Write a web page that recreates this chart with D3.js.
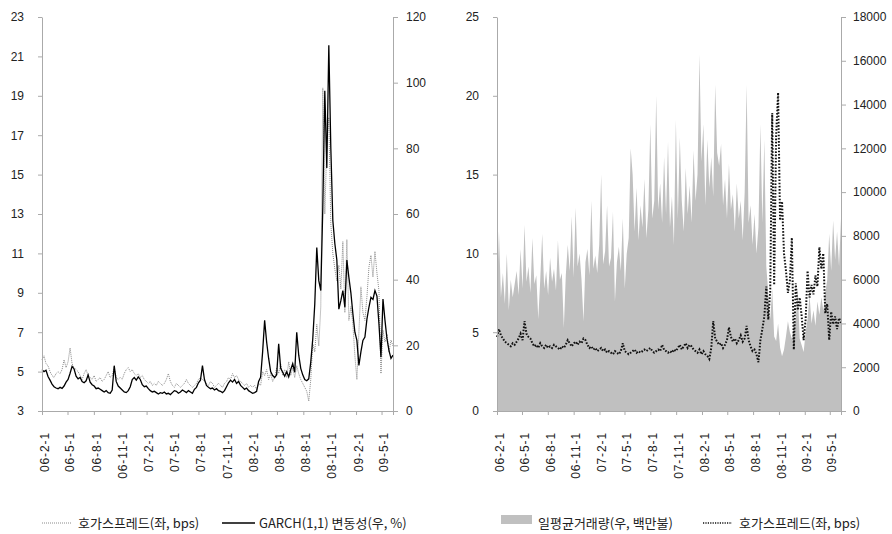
<!DOCTYPE html>
<html>
<head>
<meta charset="utf-8">
<script src="https://cdn.jsdelivr.net/npm/d3@7"></script>
<style>
  body { margin: 0; background: #fff; }
  svg { display: block; font-family: "Noto Sans CJK KR", "Noto Sans", sans-serif; }
  .axis text { font-size: 12px; fill: #222; }
  .axis path, .axis line { stroke: #aaa; }
  .legend text { font-size: 13px; fill: #222; }
</style>
</head>
<body>
<svg id="chart" width="892" height="534"></svg>
<script>
// 주간 데이터 (2006-02-01 부터 7일 간격)
const startDate = new Date(2006, 1, 1);

const tickLabels = ["06-2-1", "06-5-1", "06-8-1", "06-11-1", "07-2-1", "07-5-1", "07-8-1",
  "07-11-1", "08-2-1", "08-5-1", "08-8-1", "08-11-1", "09-2-1", "09-5-1"];

// 왼쪽 그림: 호가스프레드(좌, bps)
const spreadLeft = [
  5.6, 5.8, 5.4, 5.3, 5.0, 4.8, 4.7, 4.9, 5.0, 4.9,
  5.1, 5.6, 5.2, 5.5, 6.2, 5.4, 5.2, 5.1, 5.0, 4.8,
  4.6, 4.9, 5.1, 4.8, 4.7, 4.6, 4.8, 4.5, 4.6, 4.7,
  4.5, 4.6, 4.8, 5.0, 4.7, 4.8, 5.2, 4.7, 4.6, 4.7,
  4.6, 4.9, 5.1, 5.2, 5.0, 5.1, 4.9, 4.8, 4.9, 4.7,
  4.8, 4.6, 4.5, 4.4, 4.5, 4.3, 4.4, 4.3, 4.5, 4.4,
  4.3, 4.4, 4.6, 4.9, 4.5, 4.3, 4.2, 4.4, 4.3, 4.2,
  4.3, 4.4, 4.6, 4.4, 4.3, 4.2, 4.3, 4.4, 4.6, 4.7,
  4.6, 4.5, 4.4, 4.3, 4.5, 4.4, 4.2, 4.3, 4.4, 4.3,
  4.2, 4.4, 4.5, 4.7, 4.6, 4.9, 4.7, 4.8, 4.6, 4.5,
  4.4, 4.3, 4.4, 4.2, 4.3, 4.2, 4.3, 4.1, 4.4, 4.3,
  5.0, 4.8, 5.1, 4.6, 4.9, 4.5, 4.7, 5.2, 4.9, 5.4,
  4.8, 5.1, 4.7, 5.5, 4.8, 5.2, 4.7, 5.3, 4.9, 4.6,
  4.4, 4.2, 4.0, 3.5, 4.6, 6.4, 6.0, 7.4, 6.3, 8.3,
  19.4, 13.0, 16.5, 17.9, 12.5, 11.0, 10.2, 9.6, 10.4, 9.2,
  11.6, 8.0, 11.7, 7.6, 8.3, 7.4, 5.8, 4.6, 7.0, 9.3,
  8.0, 7.6, 8.8, 10.3, 10.9, 9.8, 11.1, 10.0, 9.1, 4.9,
  7.1, 6.5, 6.9, 6.0, 6.6, 6.3
];

// 왼쪽 그림: GARCH(1,1) 변동성(우, %)
const garch = [
  12.6, 12.0, 12.4, 10.5, 9.4, 8.2, 7.4, 7.0, 6.8, 7.2,
  6.9, 7.6, 8.8, 9.6, 11.5, 13.6, 12.8, 10.6, 9.8, 10.2,
  9.0, 8.6, 9.2, 11.0, 8.8, 8.0, 7.6, 6.8, 7.0, 6.6,
  6.2, 5.8, 6.2, 5.6, 5.4, 6.4, 13.8, 9.0, 7.6, 7.0,
  6.4, 5.8, 5.6, 6.2, 7.4, 9.6, 10.2, 9.4, 10.4, 9.6,
  8.0, 7.4, 7.6, 6.8, 6.2, 5.8, 6.0, 5.6, 5.2, 5.6,
  5.4, 5.8, 5.2, 5.4, 5.0, 5.6, 6.2, 6.0, 5.4, 5.8,
  6.4, 6.0, 5.6, 6.2, 5.8, 5.4, 6.6, 7.2, 8.6, 9.4,
  13.8, 9.6, 7.8, 7.2, 6.8, 7.0, 6.4, 6.8, 6.2, 6.0,
  5.6, 6.2, 7.4, 8.6, 9.4, 8.8, 9.6, 8.4, 9.0, 7.8,
  7.2, 6.6, 7.0, 6.2, 5.8, 5.4, 5.6, 6.0, 9.0, 10.3,
  18.0, 27.6, 21.0, 16.0, 12.0, 10.8, 10.2, 11.0, 20.5, 13.0,
  11.8, 10.6, 12.0, 10.4, 12.6, 14.4, 11.8, 24.0, 17.0, 13.0,
  11.0, 9.6, 9.2, 9.8, 14.9, 22.0, 32.6, 49.8, 39.7, 36.7,
  62.0, 97.5, 74.0, 111.4, 80.0, 58.0, 51.0, 46.0, 31.0, 33.6,
  36.7, 31.6, 46.0, 40.7, 36.0, 29.6, 24.0, 21.5, 13.9, 18.0,
  21.5, 22.5, 28.0, 31.6, 34.6, 34.0, 36.7, 35.0, 26.5, 16.4,
  34.1, 27.6, 22.0, 18.4, 16.0, 17.0
];

// 오른쪽 그림: 일평균거래량(우, 백만불)
const volume = [
  5400, 8200, 5200, 6300, 4900, 7200, 4600, 6000, 5200, 5800,
  6400, 5300, 7400, 5600, 8500, 5900, 6600, 5400, 7900, 5800,
  6200, 4200, 6000, 8100, 5600, 6400, 5300, 7000, 5900, 6500,
  5500, 7800, 6000, 6300, 3800, 6200, 7600, 6400, 8900, 6100,
  9300, 6600, 7200, 6000, 4100, 6800, 7400, 6200, 9600, 6500,
  7100, 6300, 7600, 10800, 6700, 7300, 9400, 6600, 7000, 9100,
  5000, 6800, 7500, 6400, 8800, 5600, 7200, 7900, 12000, 10800,
  8200, 10200, 7800, 9400, 8400, 10600, 7900, 9200, 13100, 8800,
  9600, 14400, 9200, 10400, 8600, 11600, 9000, 12300, 8400, 9800,
  7600, 13300, 8800, 12500, 9600, 8200, 11100, 9000, 10300, 8600,
  11900, 9600, 10800, 16300, 11400, 13100, 9400, 12400, 10200, 11600,
  9800, 14900, 11800, 11200, 12200, 9400, 10600, 8800, 11300, 9200,
  9900, 8200, 10400, 8800, 9600, 7800, 10000, 14900, 8600, 9400,
  7600, 9000, 7200, 8400, 13100, 8600, 12400, 6600, 5400, 4200,
  5600, 3400, 3200, 4000, 2900, 2500, 2800, 3400, 4100, 3600,
  3300, 3800, 4200, 5600, 3300, 3000, 2700, 3600, 4200, 5300,
  4000, 4600, 3900, 5000, 4400, 5200, 4600, 5400, 6000, 8100,
  6400, 8700, 6900, 8200, 6600, 8800
];

// 오른쪽 그림: 호가스프레드(좌, bps)
const spreadRight = [
  4.7, 5.2, 4.8, 4.6, 4.4, 4.3, 4.2, 4.1, 4.3, 4.2,
  4.4, 4.6, 4.9, 4.5, 5.7, 4.9, 4.7, 4.6, 4.3, 4.1,
  4.2, 4.0, 4.3, 4.1, 4.0, 4.2, 4.0, 4.1, 4.0, 4.2,
  4.1, 4.0, 3.9, 4.1, 4.0, 4.2, 4.5, 4.3, 4.1, 4.3,
  4.4, 4.2, 4.4, 4.3, 4.6, 4.5, 4.2, 4.0, 4.1, 3.9,
  4.0, 3.8, 3.9, 4.0, 3.8, 3.9, 3.7, 3.8, 3.7, 3.6,
  3.8, 3.7, 3.6, 3.8, 4.3, 3.8, 3.7, 3.6, 3.7, 3.8,
  3.9, 3.7, 3.8, 3.7, 3.8, 3.9, 3.8, 3.9, 4.0, 3.8,
  3.7, 3.8, 3.9, 3.8, 4.2, 3.9, 3.8, 3.7, 3.8, 3.7,
  3.9, 3.8, 4.0, 4.2, 3.9, 4.1, 4.3, 4.0, 4.2, 4.1,
  3.9, 3.8, 3.7, 3.9, 3.6, 3.8, 3.6, 3.5, 3.3, 4.0,
  5.7, 4.6, 4.4, 4.2, 4.3, 4.0, 4.2, 4.5, 5.3, 4.7,
  4.4, 4.6, 4.3, 4.5, 4.8, 4.4, 4.6, 5.4, 4.5, 4.1,
  3.8, 3.9, 3.6, 3.1, 4.5, 5.2, 6.0, 7.9, 5.8, 7.6,
  18.9, 8.0, 17.5, 20.2, 12.1, 13.3, 10.0, 8.9, 7.5, 8.3,
  11.0, 3.9, 8.1, 6.4, 7.2, 6.0, 4.5, 5.8, 8.9, 7.2,
  8.0, 7.4, 8.6, 7.9, 10.4, 9.0, 10.0, 6.2, 6.8, 4.5,
  6.3, 5.5, 6.0, 5.2, 5.9, 5.6
];

const dates = spreadLeft.map((d, i) => d3.timeDay.offset(startDate, 7 * i));
const tickDates = tickLabels.map(s => {
  const p = s.split("-").map(Number);
  return new Date(2000 + p[0], p[1] - 1, p[2]);
});

const svg = d3.select("#chart");
const plotTop = 17, plotBottom = 411;

function xAxis(g, x) {
  g.attr("class", "axis")
    .attr("transform", `translate(0,${plotBottom})`)
    .call(d3.axisBottom(x).tickValues(tickDates).tickSizeOuter(0).tickSize(4)
      .tickFormat((d, i) => tickLabels[i]));
  g.selectAll("text")
    .attr("transform", "rotate(-90)")
    .attr("text-anchor", "end")
    .attr("x", -21)
    .attr("y", 2)
    .attr("dy", "0.35em")
    .style("letter-spacing", "0.9px");
}

function yAxes(x0, x1, yl, yr, lTicks, rTicks, lPad, rPad) {
  svg.append("g").attr("class", "axis")
    .attr("transform", `translate(${x0},0)`)
    .call(d3.axisLeft(yl).tickValues(lTicks).tickSize(4).tickSizeOuter(0).tickPadding(lPad)
      .tickFormat(d3.format("d")));
  svg.append("g").attr("class", "axis")
    .attr("transform", `translate(${x1},0)`)
    .call(d3.axisRight(yr).tickValues(rTicks).tickSize(5).tickSizeOuter(0).tickPadding(rPad)
      .tickFormat(d3.format("d")));
}

// ---------- 왼쪽 그림 ----------
const L = { x0: 42, x1: 393 };
const xL = d3.scaleTime().domain([startDate, dates[dates.length - 1]]).range([L.x0, L.x1]);
const ySpreadL = d3.scaleLinear().domain([3, 23]).range([plotBottom, plotTop]);
const yGarch = d3.scaleLinear().domain([0, 120]).range([plotBottom, plotTop]);

svg.append("path")
  .datum(spreadLeft)
  .attr("fill", "none")
  .attr("stroke", "#8a8a8a")
  .attr("stroke-width", 1)
  .attr("stroke-dasharray", "1,1")
  .attr("d", d3.line().x((d, i) => xL(dates[i])).y(d => ySpreadL(d)));

svg.append("path")
  .datum(garch)
  .attr("fill", "none")
  .attr("stroke", "#000")
  .attr("stroke-width", 1.3)
  .attr("d", d3.line().x((d, i) => xL(dates[i])).y(d => yGarch(d)));

yAxes(L.x0, L.x1, ySpreadL, yGarch, d3.range(3, 24, 2), d3.range(0, 121, 20), 14, 8);
svg.append("g").call(g => xAxis(g, xL));

// ---------- 오른쪽 그림 ----------
const R = { x0: 497, x1: 841 };
const xR = d3.scaleTime().domain([startDate, dates[dates.length - 1]]).range([R.x0, R.x1]);
const ySpreadR = d3.scaleLinear().domain([0, 25]).range([plotBottom, plotTop]);
const yVol = d3.scaleLinear().domain([0, 18000]).range([plotBottom, plotTop]);

svg.append("path")
  .datum(volume)
  .attr("fill", "#c0c0c0")
  .attr("d", d3.area().x((d, i) => xR(dates[i])).y0(yVol(0)).y1(d => yVol(d)));

svg.append("path")
  .datum(spreadRight)
  .attr("fill", "none")
  .attr("stroke", "#111")
  .attr("stroke-width", 2)
  .attr("stroke-dasharray", "1.6,1.6")
  .attr("d", d3.line().x((d, i) => xR(dates[i])).y(d => ySpreadR(d)));

yAxes(R.x0, R.x1, ySpreadR, yVol, d3.range(0, 26, 5), d3.range(0, 18001, 2000), 14, 7);
svg.append("g").call(g => xAxis(g, xR));

// ---------- 범례 ----------
const lg = svg.append("g").attr("class", "legend");
const ly = 523;

lg.append("line").attr("x1", 42).attr("x2", 72).attr("y1", ly).attr("y2", ly)
  .attr("stroke", "#8a8a8a").attr("stroke-dasharray", "1,1");
lg.append("text").attr("x", 78).attr("y", ly).attr("dy", "0.35em").text("호가스프레드(좌, bps)");

lg.append("line").attr("x1", 222).attr("x2", 255).attr("y1", ly).attr("y2", ly)
  .attr("stroke", "#000").attr("stroke-width", 1.3);
lg.append("text").attr("x", 259).attr("y", ly).attr("dy", "0.35em").text("GARCH(1,1) 변동성(우, %)");

lg.append("rect").attr("x", 501).attr("y", 515).attr("width", 31).attr("height", 9)
  .attr("fill", "#c0c0c0");
lg.append("text").attr("x", 538).attr("y", ly).attr("dy", "0.35em").text("일평균거래량(우, 백만불)");

lg.append("line").attr("x1", 703).attr("x2", 732).attr("y1", ly).attr("y2", ly)
  .attr("stroke", "#111").attr("stroke-width", 1.5).attr("stroke-dasharray", "1.2,1.2");
lg.append("text").attr("x", 739).attr("y", ly).attr("dy", "0.35em").text("호가스프레드(좌, bps)");
</script>
</body>
</html>
